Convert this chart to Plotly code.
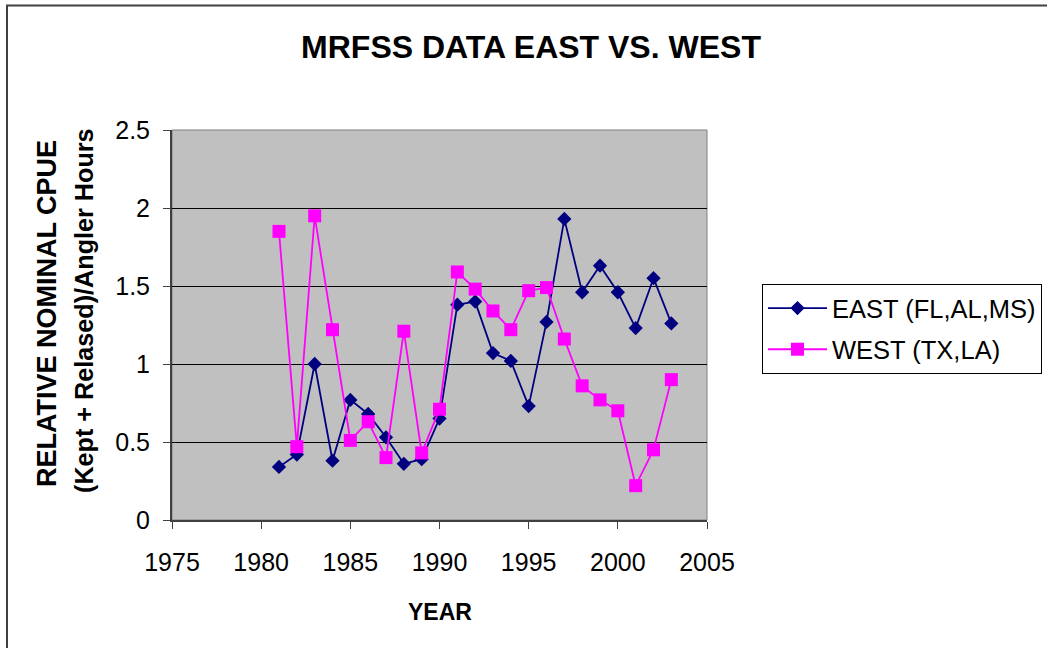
import plotly.graph_objects as go

# MRFSS relative nominal CPUE by year, eastern vs western Gulf states
years = list(range(1981, 2004))
east_cpue = [0.34, 0.42, 1.00, 0.38, 0.77, 0.68, 0.53, 0.36, 0.39, 0.65,
             1.38, 1.40, 1.07, 1.02, 0.73, 1.27, 1.93, 1.46, 1.63, 1.46,
             1.23, 1.55, 1.26]
west_cpue = [1.85, 0.47, 1.95, 1.22, 0.51, 0.63, 0.40, 1.21, 0.43, 0.71,
             1.59, 1.48, 1.34, 1.22, 1.47, 1.49, 1.16, 0.86, 0.77, 0.70,
             0.22, 0.45, 0.90]
east_name = "EAST (FL,AL,MS)"
west_name = "WEST (TX,LA)"

W, H = 1047, 648
L, R, T, B = 172, 707, 130, 520  # plot area edges in pixels

def px_x(p):
    return (p - L) / (R - L)

def px_y(p):
    return (B - p) / (B - T)

FONT = "Liberation Sans, Arial, sans-serif"

fig = go.Figure()
fig.add_trace(go.Scatter(
    x=years, y=east_cpue, name=east_name, mode="lines+markers",
    line=dict(color="#000080", width=1.8),
    marker=dict(symbol="diamond", size=11, color="#000080"),
    legendgroup="east",
))
fig.add_trace(go.Scatter(
    x=years, y=west_cpue, name=west_name, mode="lines+markers",
    line=dict(color="#FF00FF", width=1.8),
    marker=dict(symbol="square", size=13, color="#FF00FF"),
    legendgroup="west",
))

axis_common = dict(
    showline=True, linecolor="#404040", linewidth=2,
    ticks="outside", ticklen=7, tickcolor="#404040", tickwidth=1,
    tickfont=dict(family=FONT, size=25, color="black"),
    zeroline=False,
)

fig.update_xaxes(range=[1975, 2005], dtick=5, tick0=1975, showgrid=False,
                 ticklabelstandoff=12, **axis_common)
fig.update_yaxes(range=[0, 2.5], dtick=0.5, showgrid=True,
                 gridcolor="black", gridwidth=1, ticklabelstandoff=8,
                 **axis_common)

fig.update_layout(
    width=W, height=H,
    margin=dict(l=L, r=W - R, t=T, b=H - B, pad=0, autoexpand=False),
    paper_bgcolor="white",
    plot_bgcolor="#C0C0C0",
    font=dict(family=FONT, color="black"),
    title=dict(
        text="<b>MRFSS DATA EAST VS. WEST</b>",
        font=dict(family=FONT, size=32, color="black"),
        x=531 / W, xref="container", xanchor="center",
        y=1 - 47 / H, yref="container", yanchor="middle",
    ),
    showlegend=True,
    legend=dict(
        x=px_x(762), y=px_y(284), xanchor="left", yanchor="top",
        bordercolor="black", borderwidth=1, bgcolor="white",
        font=dict(family=FONT, size=25.5, color="black"),
        tracegroupgap=5, itemwidth=59,
    ),
    shapes=[
        # gray frame around the plotting area
        dict(type="rect", xref="paper", yref="paper", x0=0, x1=1, y0=0, y1=1,
             line=dict(color="#808080", width=1), layer="below"),
        # outer chart border
        dict(type="rect", xref="paper", yref="paper",
             x0=px_x(7), x1=px_x(1070), y0=px_y(670), y1=px_y(5.5),
             line=dict(color="#404040", width=2)),
    ],
    annotations=[
        dict(text="<b>RELATIVE NOMINAL CPUE</b>", textangle=-90,
             xref="paper", yref="paper", x=px_x(47), y=px_y(314),
             xanchor="center", yanchor="middle", showarrow=False,
             font=dict(family=FONT, size=27, color="black")),
        dict(text="<b>(Kept + Relased)/Angler Hours</b>", textangle=-90,
             xref="paper", yref="paper", x=px_x(84), y=px_y(311),
             xanchor="center", yanchor="middle", showarrow=False,
             font=dict(family=FONT, size=25.2, color="black")),
        dict(text="<b>YEAR</b>", xref="paper", yref="paper",
             x=px_x(440), y=px_y(612), xanchor="center", yanchor="middle",
             showarrow=False, font=dict(family=FONT, size=23, color="black")),
    ],
)

fig.write_html("out.html")
